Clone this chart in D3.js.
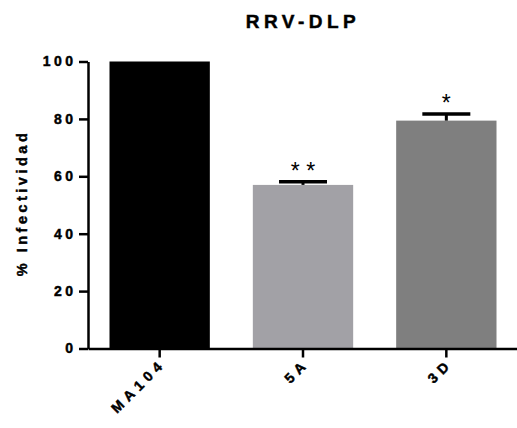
<!DOCTYPE html>
<html>
<head>
<meta charset="utf-8">
<script src="https://cdn.jsdelivr.net/npm/d3@7"></script>
<style>
  body { margin: 0; background: #fff; }
  text { font-family: "Liberation Sans", Arial, sans-serif; font-weight: bold; }
  .heavy { stroke: #000; stroke-width: 0.45px; }
</style>
</head>
<body>
<svg id="chart"></svg>
<script>
const categories = ["MA104", "5A", "3D"];
const values = [100, 57.0, 79.4];
const errors = [0, 1.1, 2.3];
const signif = ["", "* *", "*"];
const colors = ["#000000", "#a2a1a6", "#7f7f7f"];
const yTicks = [0, 20, 40, 60, 80, 100];

const W = 517, H = 428;
const margin = { top: 61.5, right: 0, bottom: 79.5, left: 88 };
const width = W - margin.left - margin.right,
      height = H - margin.top - margin.bottom;

const svg = d3.select("#chart")
    .attr("width", W)
    .attr("height", H)
    .append("g")
    .attr("transform", `translate(${margin.left},${margin.top})`);

const x = d3.scaleBand()
    .domain(categories)
    .range([0, width + 1])
    .paddingInner(0.3)
    .paddingOuter(0.15);

const y = d3.scaleLinear()
    .domain([0, 100])
    .range([height, 0]);

const data = categories.map((c, i) => ({ cat: c, val: values[i], err: errors[i], sig: signif[i], color: colors[i] }));

// bars
svg.selectAll(".bar")
    .data(data)
    .enter().append("rect")
    .attr("class", "bar")
    .attr("x", d => x(d.cat))
    .attr("y", d => y(d.val))
    .attr("width", x.bandwidth())
    .attr("height", d => height - y(d.val))
    .attr("fill", d => d.color);

// error bars (upper only)
const eb = data.filter(d => d.err > 0);
svg.selectAll(".err-v")
    .data(eb)
    .enter().append("line")
    .attr("x1", d => x(d.cat) + x.bandwidth() / 2)
    .attr("x2", d => x(d.cat) + x.bandwidth() / 2)
    .attr("y1", d => y(d.val))
    .attr("y2", d => y(d.val + d.err))
    .attr("stroke", "#000")
    .attr("stroke-width", 3);

svg.selectAll(".err-cap")
    .data(eb)
    .enter().append("line")
    .attr("x1", d => x(d.cat) + x.bandwidth() / 2 - 24)
    .attr("x2", d => x(d.cat) + x.bandwidth() / 2 + 24)
    .attr("y1", d => y(d.val + d.err))
    .attr("y2", d => y(d.val + d.err))
    .attr("stroke", "#000")
    .attr("stroke-width", 3.5);

// significance stars
svg.selectAll(".sig")
    .data(eb)
    .enter().append("text")
    .attr("x", d => x(d.cat) + x.bandwidth() / 2)
    .attr("y", d => y(d.val + d.err) - 3)
    .attr("text-anchor", "middle")
    .style("font-size", "23px")
    .style("font-weight", "normal")
    .attr("xml:space", "preserve")
    .text(d => d.sig);

// y axis
const yAxis = svg.append("g")
    .call(d3.axisLeft(y).tickValues(yTicks).tickSize(9).tickSizeOuter(0).tickPadding(6));
yAxis.select(".domain").attr("stroke-width", 2.5);
yAxis.selectAll(".tick line").attr("stroke-width", 2.5);
yAxis.selectAll(".tick text")
    .attr("class", "heavy")
    .style("font-size", "14px")
    .style("letter-spacing", "3.5px")
    .attr("dx", "3.5px")
    .attr("fill", "#000");

// x axis
const xAxis = svg.append("g")
    .attr("transform", `translate(0,${height})`)
    .call(d3.axisBottom(x).tickSize(9).tickSizeOuter(0));
xAxis.select(".domain").attr("stroke-width", 2.5);
xAxis.selectAll(".tick line").attr("stroke-width", 2.5);
xAxis.selectAll(".tick text")
    .attr("class", "heavy")
    .style("font-size", "14px")
    .style("letter-spacing", "5px")
    .attr("fill", "#000")
    .attr("text-anchor", "end")
    .attr("x", 0)
    .attr("y", 0)
    .attr("dy", 0)
    .attr("transform", "translate(7,16) rotate(-45)");

// title
d3.select("#chart").append("text")
    .attr("class", "heavy")
    .attr("x", 303)
    .attr("y", 28)
    .attr("text-anchor", "middle")
    .style("font-size", "19px")
    .style("letter-spacing", "4.5px")
    .text("RRV-DLP");

// y label
d3.select("#chart").append("text")
    .attr("class", "heavy")
    .attr("transform", `translate(27,${margin.top + height / 2 - 2}) rotate(-90)`)
    .attr("text-anchor", "middle")
    .style("font-size", "14.5px")
    .style("letter-spacing", "3.5px")
    .text("% Infectividad");
</script>
</body>
</html>
